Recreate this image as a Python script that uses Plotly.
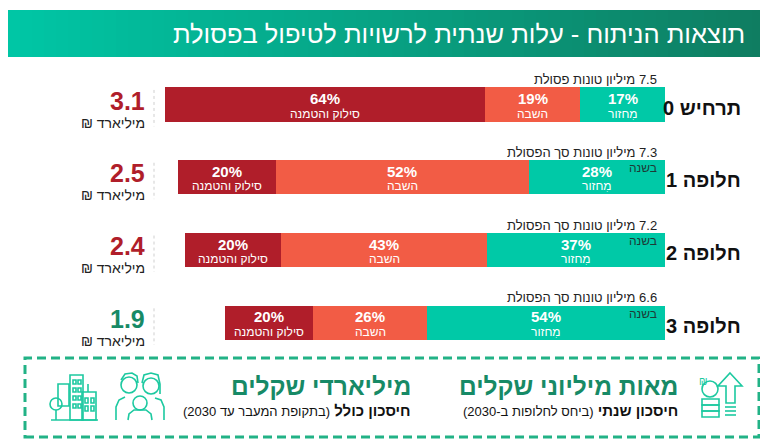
import plotly.graph_objects as go

W, H = 768, 441
LRM = "\u200E"

# ---------------- data ----------------
# scenario names (number written first so that, in the SVG's LTR base direction,
# it lands on the left, as in right-to-left typesetting)
scenarios = ["0 תרחיש", "1 חלופה", "2 חלופה", "3 חלופה"]
totals = [7.5, 7.3, 7.2, 6.6]  # million tonnes of waste
total_words = ["מיליון טונות פסולת", "מיליון טונות סך הפסולת",
               "מיליון טונות סך הפסולת", "מיליון טונות סך הפסולת"]
recycle_pct = [17, 28, 37, 54]
recovery_pct = [19, 52, 43, 26]
landfill_pct = [64, 20, 20, 20]
seg_names = ["מִחזור", "השבה", "סילוק והטמנה"]
costs = [3.1, 2.5, 2.4, 1.9]  # billion NIS per year
cost_unit = "₪ מיליארד"
per_year = ["", "בשנה", "בשנה", "בשנה"]

title = "תוצאות הניתוח - עלות שנתית לרשויות לטיפול בפסולת"
box_head_right = "מאות מיליוני שקלים"
box_sub_right = ("<span style='font-size:13px'>(2030-ביחס לחלופות ב)</span>" + LRM +
                 " <b>חיסכון שנתי</b>")
box_head_left = "מיליארדי שקלים"
box_sub_left = ("<span style='font-size:13px'>(2030 בתקופת המעבר עד)</span>" + LRM +
                " <b>חיסכון כולל</b>")

# ---------------- style ----------------
C_REC = "#00C9A7"
C_RECOV = "#F25C45"
C_LAND = "#B01E2A"
C_RED = "#B01E2A"
C_GREEN = "#178A66"
C_ICON = "#1CC9A0"
cost_colors = [C_RED, C_RED, C_RED, C_GREEN]
FONT = "Liberation Sans, Arial, sans-serif"


def px(x):
    return x / W


def py(y):
    return 1 - y / H


rows = list(range(len(scenarios)))
fig = go.Figure()

segments = [recycle_pct, recovery_pct, landfill_pct]
colors = [C_REC, C_RECOV, C_LAND]
seg_vals = []
for pct, col in zip(segments, colors):
    vals = [p * t / 100 for p, t in zip(pct, totals)]
    seg_vals.append(vals)
    fig.add_trace(go.Bar(
        y=rows, x=vals, orientation="h", width=0.47,
        marker=dict(color=col, line=dict(width=0)),
        hoverinfo="skip", showlegend=False,
    ))

annotations = []
shapes = []

for i in rows:
    base = 0.0
    for k in range(3):
        v = seg_vals[k][i]
        c = base + v / 2
        annotations.append(dict(
            x=c, y=i, xref="x", yref="y", text="<b>%d%%</b>" % segments[k][i],
            showarrow=False, yshift=6, font=dict(family=FONT, size=15, color="white")))
        annotations.append(dict(
            x=c, y=i, xref="x", yref="y", text=seg_names[k],
            showarrow=False, yshift=-9, font=dict(family=FONT, size=12, color="white")))
        base += v
    # total tonnage above the bar (number on the right)
    annotations.append(dict(
        x=px(651), y=i, xref="paper", yref="y",
        text=total_words[i] + LRM + " %.1f" % totals[i],
        xanchor="right", showarrow=False, yshift=25,
        font=dict(family=FONT, size=13, color="#222222")))
    if per_year[i]:
        annotations.append(dict(
            x=px(651), y=i, xref="paper", yref="y", text=per_year[i],
            xanchor="right", showarrow=False, yshift=9,
            font=dict(family=FONT, size=12, color="#1d3b36")))
    annotations.append(dict(
        x=px(735), y=i, xref="paper", yref="y", text="<b>" + scenarios[i] + "</b>",
        xanchor="right", showarrow=False, yshift=-3,
        font=dict(family=FONT, size=20, color="#111111")))
    annotations.append(dict(
        x=px(139), y=i, xref="paper", yref="y", text="<b>%.1f</b>" % costs[i],
        xanchor="right", showarrow=False, yshift=4,
        font=dict(family=FONT, size=25, color=cost_colors[i])))
    annotations.append(dict(
        x=px(139), y=i, xref="paper", yref="y", text=cost_unit,
        xanchor="right", showarrow=False, yshift=-18,
        font=dict(family=FONT, size=14, color="#222222")))
    shapes.append(dict(type="line", xref="paper", yref="y", x0=px(146), x1=px(146),
                       y0=i - 0.2, y1=i + 0.3,
                       line=dict(color="#cfcfcf", width=1, dash="dot")))

# header gradient band
c0 = (0x00, 0xC6, 0xA5)
c1 = (0x0F, 0x7C, 0x60)
N = 64
for j in range(N):
    t = j / (N - 1)
    col = "rgb(%d,%d,%d)" % tuple(round(a + (b - a) * t) for a, b in zip(c0, c1))
    shapes.append(dict(type="rect", xref="paper", yref="paper",
                       x0=px(W * j / N), x1=px(W * (j + 1) / N + 0.6),
                       y0=py(49), y1=py(2), fillcolor=col, line=dict(width=0), layer="below"))
annotations.append(dict(x=px(739), y=py(26), xref="paper", yref="paper", text=title,
                        xanchor="right", yanchor="middle", showarrow=False,
                        font=dict(family=FONT, size=25.5, color="white")))

# bottom grey strip
shapes.append(dict(type="rect", xref="paper", yref="paper", x0=0, x1=1, y0=0, y1=py(434),
                   fillcolor="#f1f1f1", line=dict(width=0), layer="below"))

# dashed savings box
shapes.append(dict(type="rect", xref="paper", yref="paper", x0=px(17), x1=px(751),
                   y0=py(429), y1=py(350), line=dict(color="#22B286", width=3, dash="9px,5px")))

annotations += [
    dict(x=px(672), y=py(378), xref="paper", yref="paper", text="<b>" + box_head_right + "</b>",
         xanchor="right", yanchor="middle", showarrow=False,
         font=dict(family=FONT, size=24.5, color=C_GREEN)),
    dict(x=px(672), y=py(402), xref="paper", yref="paper", text=box_sub_right,
         xanchor="right", yanchor="middle", showarrow=False,
         font=dict(family=FONT, size=15, color="#111111")),
    dict(x=px(405), y=py(378), xref="paper", yref="paper", text="<b>" + box_head_left + "</b>",
         xanchor="right", yanchor="middle", showarrow=False,
         font=dict(family=FONT, size=24.5, color=C_GREEN)),
    dict(x=px(405), y=py(402), xref="paper", yref="paper", text=box_sub_left,
         xanchor="right", yanchor="middle", showarrow=False,
         font=dict(family=FONT, size=15, color="#111111")),
]


# ---------- icons (decorative line drawings) ----------
def P(pts, close=False):
    s = "M " + " L ".join("%.5f %.5f" % (px(x), py(y)) for x, y in pts)
    return s + (" Z" if close else "")


def circ(cx, cy, r):
    shapes.append(dict(type="circle", xref="paper", yref="paper",
                       x0=px(cx - r), x1=px(cx + r), y0=py(cy + r), y1=py(cy - r),
                       line=dict(color=C_ICON, width=1.6)))


def path(d):
    shapes.append(dict(type="path", xref="paper", yref="paper", path=d,
                       line=dict(color=C_ICON, width=1.6)))


def rect(x0, y0, x1, y1):
    shapes.append(dict(type="rect", xref="paper", yref="paper",
                       x0=px(x0), x1=px(x1), y0=py(y1), y1=py(y0),
                       line=dict(color=C_ICON, width=1.6)))


# coins + arrow
path(P([(722, 365), (734, 378), (727, 378), (727, 395), (718, 395), (718, 378), (710, 378)], close=True))
for yy in (399, 403, 407):
    path(P([(717, yy), (728, yy)]))
circ(702, 381, 8)
annotations.append(dict(x=px(702), y=py(381), xref="paper", yref="paper", text="₪",
                        showarrow=False, font=dict(family=FONT, size=10, color=C_ICON)))
for y0 in (391, 397, 403):
    rect(694, y0, 711, y0 + 6)

# family
circ(121, 377, 8)
circ(143, 378, 8)
circ(132, 395, 7)
path(P([(113, 372), (117, 366), (124, 365), (129, 368), (130, 375)]))
path(P([(134, 375), (136, 367), (143, 365), (150, 367), (152, 376), (152, 386)]))
path(P([(108, 412), (108, 399), (111, 392), (117, 389)]))
path(P([(156, 412), (156, 399), (153, 392), (147, 390)]))
path(P([(120, 412), (121, 406), (126, 402), (132, 402), (138, 402), (143, 406), (144, 412)]))

# buildings
rect(62, 367, 75, 412)
rect(74, 384, 88, 412)
rect(50, 376, 61, 398)
path(P([(80, 384), (80, 376)]))
path(P([(43, 412), (90, 412)]))
circ(48, 396, 6)
path(P([(48, 402), (48, 412)]))
for wy in (372, 380, 388, 396):
    rect(65, wy, 68, wy + 4)
    rect(70, wy, 73, wy + 4)
for wy in (390, 398):
    rect(77, wy, 80, wy + 5)
    rect(83, wy, 86, wy + 5)

fig.update_layout(
    width=W, height=H, margin=dict(l=0, r=0, t=0, b=0, pad=0),
    paper_bgcolor="white", plot_bgcolor="rgba(0,0,0,0)",
    barmode="stack", bargap=0,
    xaxis=dict(range=[9.855, -1.665], visible=False, fixedrange=True),
    yaxis=dict(range=[4.732, -1.3255], visible=False, fixedrange=True),
    shapes=shapes, annotations=annotations, showlegend=False,
)
fig.write_html("out.html")
